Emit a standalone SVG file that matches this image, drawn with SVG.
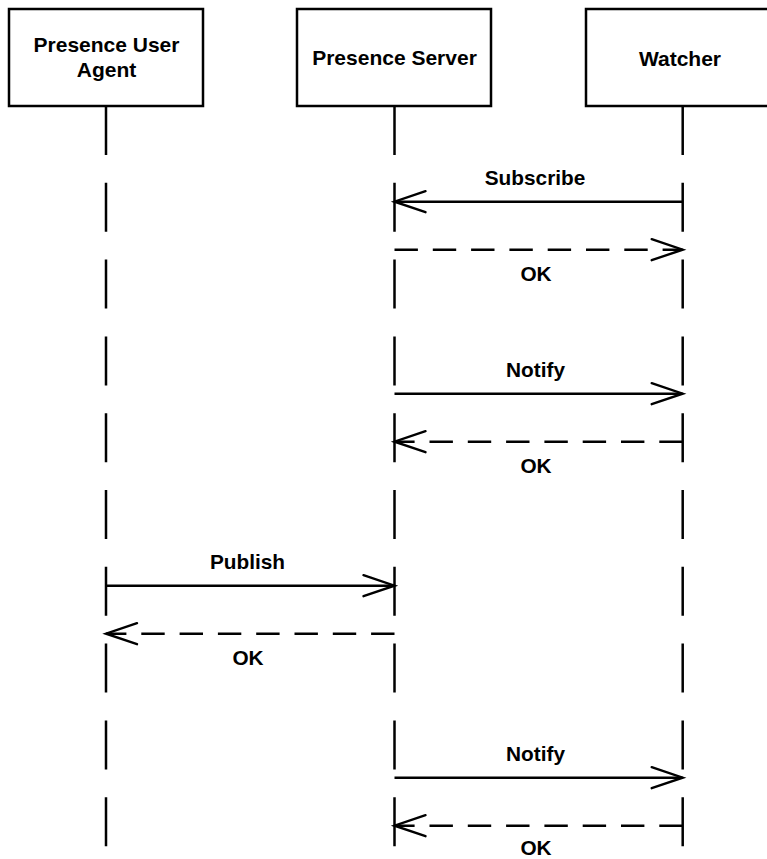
<svg xmlns="http://www.w3.org/2000/svg" width="767" height="859" viewBox="0 0 767 859">
  <style>
    .box { fill: #ffffff; stroke: #000000; stroke-width: 2.5; }
    .life { fill: none; stroke: #000000; stroke-width: 2.5; stroke-dasharray: 49 27.8; }
    .msg { fill: none; stroke: #000000; stroke-width: 2.4; }
    .reply { fill: none; stroke: #000000; stroke-width: 2.4; stroke-dasharray: 23.4 14.9; }
    .head { fill: none; stroke: #000000; stroke-width: 2.4; stroke-linecap: round; stroke-linejoin: miter; }
    .name { font-family: "Liberation Sans", Arial, sans-serif; font-weight: bold; font-size: 21px; fill: #000000; text-anchor: middle; }
    .label { font-family: "Liberation Sans", Arial, sans-serif; font-weight: bold; font-size: 20.8px; fill: #000000; text-anchor: middle; }
  </style>
  <rect width="767" height="859" fill="#ffffff"/>

  <!-- participants with their lifelines -->
  <g id="presence-user-agent">
    <line class="life" x1="106" y1="106" x2="106" y2="847"/>
    <rect class="box" x="9" y="9" width="194" height="97"/>
    <text class="name" x="106.5" y="52">Presence User</text>
    <text class="name" x="106.5" y="77">Agent</text>
  </g>
  <g id="presence-server">
    <line class="life" x1="394.5" y1="106" x2="394.5" y2="847"/>
    <rect class="box" x="297" y="9" width="194" height="97"/>
    <text class="name" x="394.5" y="65">Presence Server</text>
  </g>
  <g id="watcher">
    <line class="life" x1="682.7" y1="106" x2="682.7" y2="847"/>
    <rect class="box" x="586" y="9" width="194" height="97"/>
    <text class="name" x="680" y="65.5">Watcher</text>
  </g>

  <!-- messages -->
  <g id="connectors">
    <!-- Subscribe: watcher -> server -->
    <line class="msg" x1="682.7" y1="201.7" x2="394.5" y2="201.7"/>
    <polyline class="head" points="425.5,191.2 394.5,201.7 425.5,212.2"/>
    <text class="label" x="535" y="185">Subscribe</text>

    <!-- OK: server -> watcher -->
    <line class="reply" x1="394.5" y1="249.7" x2="682.7" y2="249.7"/>
    <polyline class="head" points="651.7,239.2 682.7,249.7 651.7,260.2"/>
    <text class="label" x="536" y="281">OK</text>

    <!-- Notify: server -> watcher -->
    <line class="msg" x1="394.5" y1="393.7" x2="682.7" y2="393.7"/>
    <polyline class="head" points="651.7,383.2 682.7,393.7 651.7,404.2"/>
    <text class="label" x="535.5" y="376.5">Notify</text>

    <!-- OK: watcher -> server -->
    <line class="reply" x1="682.7" y1="441.7" x2="394.5" y2="441.7"/>
    <polyline class="head" points="425.5,431.2 394.5,441.7 425.5,452.2"/>
    <text class="label" x="536" y="473">OK</text>

    <!-- Publish: user agent -> server -->
    <line class="msg" x1="106" y1="585.7" x2="394.5" y2="585.7"/>
    <polyline class="head" points="363.5,575.2 394.5,585.7 363.5,596.2"/>
    <text class="label" x="247.5" y="568.5">Publish</text>

    <!-- OK: server -> user agent -->
    <line class="reply" x1="394.5" y1="633.7" x2="106" y2="633.7"/>
    <polyline class="head" points="137,623.2 106,633.7 137,644.2"/>
    <text class="label" x="248" y="665">OK</text>

    <!-- Notify: server -> watcher -->
    <line class="msg" x1="394.5" y1="777.7" x2="682.7" y2="777.7"/>
    <polyline class="head" points="651.7,767.2 682.7,777.7 651.7,788.2"/>
    <text class="label" x="535.5" y="760.5">Notify</text>

    <!-- OK: watcher -> server -->
    <line class="reply" x1="682.7" y1="825.7" x2="394.5" y2="825.7"/>
    <polyline class="head" points="425.5,815.2 394.5,825.7 425.5,836.2"/>
    <text class="label" x="536" y="855">OK</text>
  </g>
</svg>
